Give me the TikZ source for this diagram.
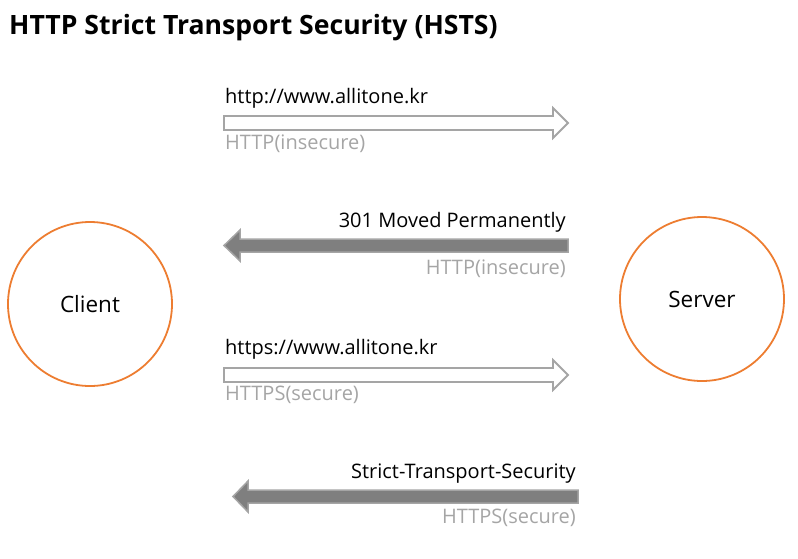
\documentclass[tikz,border=0pt]{standalone}
\usepackage{fontspec}
\setmainfont{Open Sans}
\begin{document}
\begin{tikzpicture}[x=1pt,y=-1pt,
  txt/.style={font=\fontsize{20}{24}\selectfont, inner sep=0pt, text=black},
  sub/.style={txt, text=lightgray},
  circ/.style={circle, draw=orangec, line width=1.8pt, minimum size=164pt, inner sep=0pt, font=\fontsize{22.5}{26}\selectfont},
  hollow/.style={draw=arrgray, line width=1.8pt, fill=white, line join=miter},
  solid/.style={draw=arrgray, line width=1.5pt, fill=darkg, line join=miter}]
\definecolor{orangec}{HTML}{ED7D31}
\definecolor{arrgray}{HTML}{A5A5A5}
\definecolor{darkg}{HTML}{7F7F7F}
\colorlet{lightgray}{arrgray}
\useasboundingbox (0,0) rectangle (798,558);
\node[anchor=west, inner sep=0pt, font=\bfseries\fontsize{26.6}{30}\selectfont] (title) at (9,28) {HTTP Strict Transport Security (HSTS)};
\node[circ] (client) at (90,304) {Client};
\node[circ] (server) at (702,299) {Server};
% arrow 1
\draw[hollow] (224,116) -- (553,116) -- (553,108) -- (568,123) -- (553,138) -- (553,130) -- (224,130) -- cycle;
\node[txt, anchor=base west] (u1) at (225,103) {http://www.allitone.kr};
\node[sub, anchor=base west] (s1) at (225,149) {HTTP(insecure)};
% arrow 2
\draw[solid] (568,239) -- (240,239) -- (240,230) -- (224,245.5) -- (240,261) -- (240,252) -- (568,252) -- cycle;
\node[txt, anchor=base east] (u2) at (566,227) {301 Moved Permanently};
\node[sub, anchor=base east] (s2) at (566,274) {HTTP(insecure)};
% arrow 3
\draw[hollow] (224,368) -- (553,368) -- (553,360) -- (568,375) -- (553,390) -- (553,382) -- (224,382) -- cycle;
\node[txt, anchor=base west] (u3) at (225,354) {https://www.allitone.kr};
\node[sub, anchor=base west] (s3) at (225,400) {HTTPS(secure)};
% arrow 4
\draw[solid] (578,490) -- (248,490) -- (248,481) -- (233,496.5) -- (248,512) -- (248,503) -- (578,503) -- cycle;
\node[txt, anchor=base east] (u4) at (576,478) {Strict-Transport-Security};
\node[sub, anchor=base east] (s4) at (576,523) {HTTPS(secure)};
\end{tikzpicture}
\end{document}
